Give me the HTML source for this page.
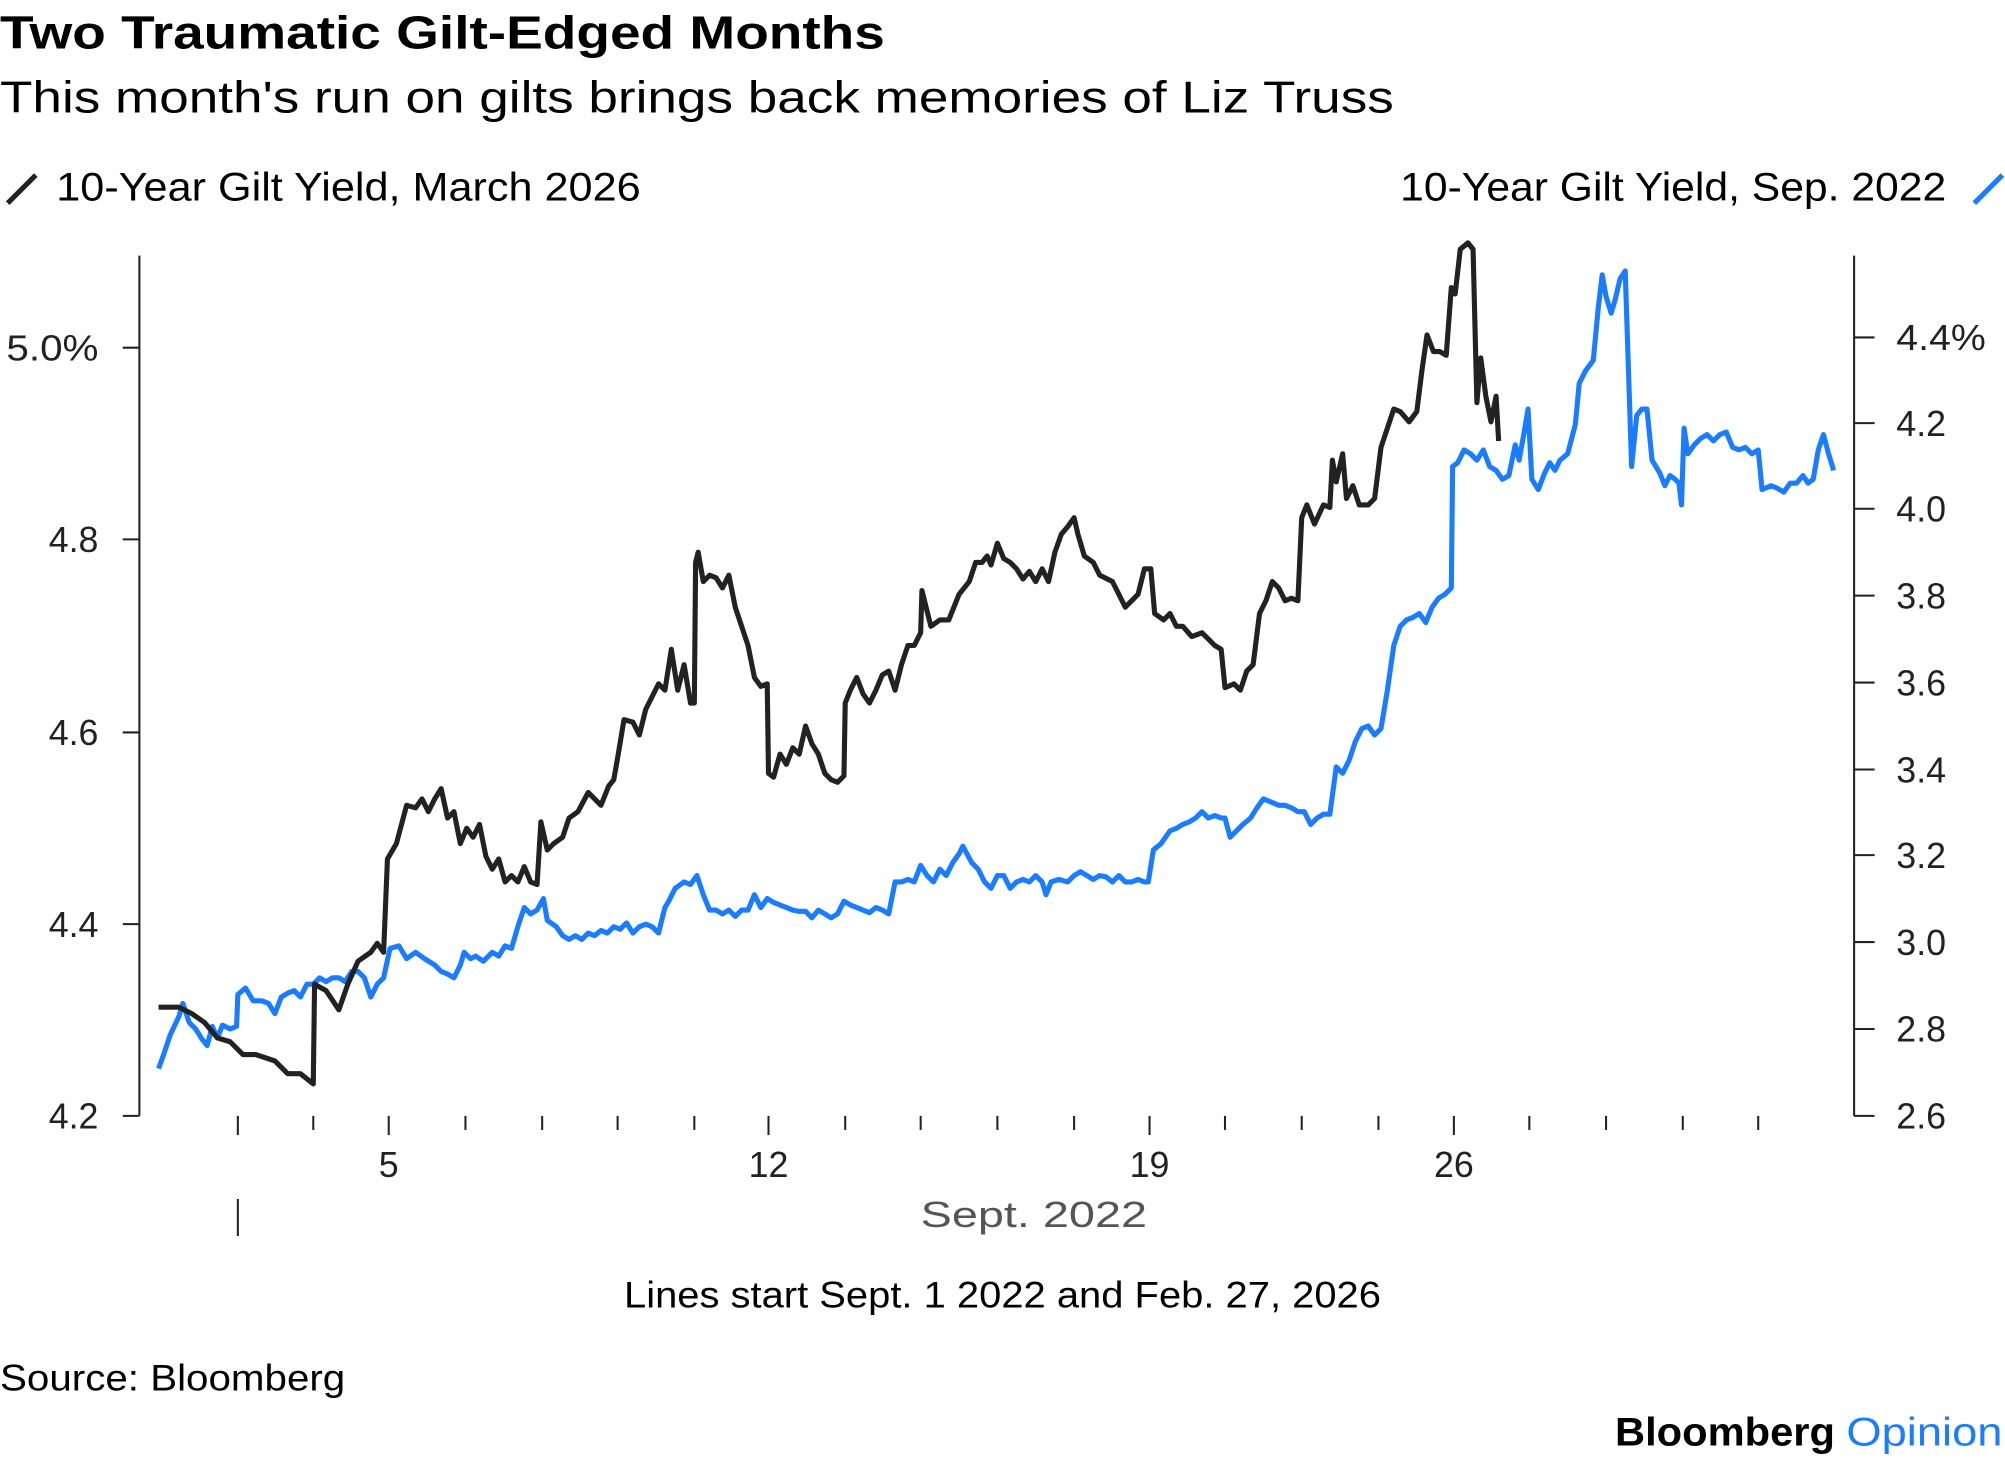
<!DOCTYPE html>
<html><head><meta charset="utf-8"><style>
html,body{margin:0;padding:0;background:#fff;}
svg{display:block;}
text{font-family:"Liberation Sans",sans-serif;}
</style></head><body>
<svg width="2005" height="1461" viewBox="0 0 1568 1143" preserveAspectRatio="none" xmlns="http://www.w3.org/2000/svg">
<rect width="1568" height="1143" fill="#fff"/>
<text x="0" y="38" font-size="36" font-weight="bold" fill="#000" textLength="692" lengthAdjust="spacingAndGlyphs">Two Traumatic Gilt-Edged Months</text>
<text x="0" y="88" font-size="35" fill="#000" textLength="1090" lengthAdjust="spacingAndGlyphs">This month's run on gilts brings back memories of Liz Truss</text>
<line x1="6" y1="159" x2="28" y2="137" stroke="#222" stroke-width="4"/>
<text x="44" y="157" font-size="31" fill="#000" textLength="457" lengthAdjust="spacingAndGlyphs">10-Year Gilt Yield, March 2026</text>
<text x="1095" y="157" font-size="31" fill="#000" textLength="427" lengthAdjust="spacingAndGlyphs">10-Year Gilt Yield, Sep. 2022</text>
<line x1="1544" y1="159" x2="1566" y2="137" stroke="#1a7cff" stroke-width="4"/>
<g stroke="#222" stroke-width="1.6">
<line x1="109" y1="200" x2="109" y2="873"/>
<line x1="1450" y1="200" x2="1450" y2="873"/>
<line x1="96" y1="873" x2="109" y2="873"/><line x1="96" y1="723" x2="109" y2="723"/><line x1="96" y1="573" x2="109" y2="573"/><line x1="96" y1="422" x2="109" y2="422"/><line x1="96" y1="272" x2="109" y2="272"/>
<line x1="1450" y1="873" x2="1466" y2="873"/><line x1="1450" y1="805" x2="1466" y2="805"/><line x1="1450" y1="737" x2="1466" y2="737"/><line x1="1450" y1="669" x2="1466" y2="669"/><line x1="1450" y1="602" x2="1466" y2="602"/><line x1="1450" y1="534" x2="1466" y2="534"/><line x1="1450" y1="466" x2="1466" y2="466"/><line x1="1450" y1="398" x2="1466" y2="398"/><line x1="1450" y1="331" x2="1466" y2="331"/><line x1="1450" y1="264" x2="1466" y2="264"/>
<line x1="186" y1="873" x2="186" y2="888"/><line x1="186" y1="938" x2="186" y2="967"/>
<line x1="245" y1="873" x2="245" y2="884"/><line x1="304" y1="873" x2="304" y2="888"/><line x1="364" y1="873" x2="364" y2="884"/><line x1="424" y1="873" x2="424" y2="884"/><line x1="483" y1="873" x2="483" y2="884"/><line x1="543" y1="873" x2="543" y2="884"/><line x1="601" y1="873" x2="601" y2="888"/><line x1="661" y1="873" x2="661" y2="884"/><line x1="720" y1="873" x2="720" y2="884"/><line x1="780" y1="873" x2="780" y2="884"/><line x1="840" y1="873" x2="840" y2="884"/><line x1="899" y1="873" x2="899" y2="888"/><line x1="958" y1="873" x2="958" y2="884"/><line x1="1018" y1="873" x2="1018" y2="884"/><line x1="1078" y1="873" x2="1078" y2="884"/><line x1="1137" y1="873" x2="1137" y2="888"/><line x1="1196" y1="873" x2="1196" y2="884"/><line x1="1256" y1="873" x2="1256" y2="884"/><line x1="1316" y1="873" x2="1316" y2="884"/><line x1="1375" y1="873" x2="1375" y2="884"/>
</g>
<g font-size="28" fill="#222">
<text x="77" y="883" text-anchor="end">4.2</text><text x="77" y="733" text-anchor="end">4.4</text><text x="77" y="583" text-anchor="end">4.6</text><text x="77" y="432" text-anchor="end">4.8</text><text x="5" y="282" textLength="72" lengthAdjust="spacingAndGlyphs">5.0%</text>
<text x="1483" y="883">2.6</text><text x="1483" y="815">2.8</text><text x="1483" y="747">3.0</text><text x="1483" y="679">3.2</text><text x="1483" y="612">3.4</text><text x="1483" y="544">3.6</text><text x="1483" y="476">3.8</text><text x="1483" y="408">4.0</text><text x="1483" y="341">4.2</text><text x="1483" y="274" textLength="70" lengthAdjust="spacingAndGlyphs">4.4%</text>
<text x="304" y="921" text-anchor="middle">5</text><text x="601" y="921" text-anchor="middle">12</text><text x="899" y="921" text-anchor="middle">19</text><text x="1137" y="921" text-anchor="middle">26</text>
</g>
<text x="720" y="960" font-size="28" fill="#555" textLength="177" lengthAdjust="spacingAndGlyphs">Sept. 2022</text>
<text x="488" y="1023" font-size="29" fill="#000" textLength="592" lengthAdjust="spacingAndGlyphs">Lines start Sept. 1 2022 and Feb. 27, 2026</text>
<text x="0" y="1088" font-size="29" fill="#000" textLength="270" lengthAdjust="spacingAndGlyphs">Source: Bloomberg</text>
<text x="1263" y="1131" font-size="31" font-weight="bold" fill="#000" textLength="172" lengthAdjust="spacingAndGlyphs">Bloomberg</text>
<text x="1444" y="1131" font-size="31" fill="#1a7cff" textLength="122" lengthAdjust="spacingAndGlyphs">Opinion</text>
<polyline fill="none" stroke="#1a7cff" stroke-width="4" stroke-linejoin="round" points="124,836 128,825 133,810 140,795 143,785 148,800 153,805 158,813 162,818 166,803 170,812 174,802 180,805 185,803 186,778 192,773 198,783 205,783 210,785 215,793 220,780 225,777 230,775 235,780 240,770 245,770 250,765 255,768 260,765 265,765 270,768 275,760 280,760 285,765 290,780 295,770 300,765 305,742 312,740 318,750 325,745 332,750 340,755 345,760 350,762 355,765 360,755 363,745 368,750 372,748 378,752 385,745 390,748 395,740 400,742 405,725 410,710 415,715 420,712 425,703 428,720 435,725 440,732 445,735 450,732 455,735 460,730 465,732 470,728 475,730 480,725 485,727 490,722 495,730 500,725 505,723 510,725 515,730 520,710 523,705 528,695 535,690 540,692 545,685 550,700 555,712 560,712 565,715 570,712 575,717 580,712 585,712 590,700 595,710 600,703 605,706 610,708 615,710 620,712 625,713 630,713 635,718 640,712 645,715 650,718 655,715 660,705 665,708 670,710 675,712 680,714 685,710 690,712 695,715 700,690 705,690 710,688 715,690 720,677 725,685 730,690 735,680 740,685 745,675 750,668 753,662 760,675 765,680 770,690 775,695 780,685 785,685 790,695 795,690 800,688 805,690 810,685 815,690 818,700 822,690 828,688 835,690 840,685 845,682 850,685 855,688 860,685 865,686 870,690 875,685 880,690 885,690 890,688 895,690 898,690 902,665 908,660 915,650 920,648 925,645 930,643 935,640 940,635 945,640 950,638 955,640 958,640 962,655 967,650 972,645 978,640 983,632 988,625 993,627 1000,630 1005,630 1010,632 1015,635 1020,635 1025,645 1030,640 1035,637 1040,637 1045,600 1050,605 1055,595 1060,580 1065,570 1070,568 1075,575 1080,570 1085,540 1090,505 1095,490 1100,485 1105,483 1110,480 1115,487 1120,475 1125,468 1130,465 1135,460 1136,365 1140,362 1145,352 1150,355 1155,360 1160,352 1165,365 1170,368 1175,375 1180,372 1185,348 1188,360 1192,338 1195,320 1198,375 1203,383 1208,370 1212,362 1216,368 1220,360 1226,355 1232,332 1235,300 1240,290 1246,282 1250,240 1253,215 1256,232 1260,245 1263,235 1267,218 1271,212 1276,365 1280,325 1284,320 1288,320 1292,360 1298,370 1302,380 1306,372 1310,375 1313,378 1315,395 1317,335 1320,355 1325,348 1330,343 1335,340 1340,345 1345,340 1350,338 1355,350 1360,352 1365,350 1370,355 1375,352 1378,383 1385,380 1390,382 1395,385 1400,378 1405,378 1410,372 1414,378 1418,375 1422,352 1426,340 1430,355 1434,368"/>
<polyline fill="none" stroke="#222" stroke-width="4" stroke-linejoin="round" points="124,788 140,788 150,793 160,800 170,812 180,815 190,825 200,825 215,830 225,840 235,840 245,848 246,770 255,775 265,790 272,770 280,752 290,745 295,738 300,745 303,672 310,660 318,630 325,632 330,625 335,635 340,625 345,617 350,640 355,635 360,660 365,648 370,655 375,645 380,670 385,680 390,672 395,690 400,685 405,690 410,678 415,690 420,692 423,643 428,665 433,660 440,655 445,640 452,635 460,620 470,630 476,615 480,610 483,593 488,563 495,565 500,575 505,555 510,545 515,535 520,540 525,508 530,540 535,520 540,550 543,550 544,440 546,432 550,455 555,450 560,452 565,460 570,450 575,475 585,505 590,530 595,537 600,535 601,605 605,608 610,590 615,598 620,585 625,590 630,568 635,582 640,590 645,605 650,610 655,612 660,607 661,550 665,540 670,530 675,543 680,550 685,540 690,528 695,525 700,540 705,520 710,505 715,505 720,495 721,462 728,490 735,485 742,485 750,465 758,455 763,440 768,440 772,435 775,442 780,425 785,437 790,440 795,445 800,453 805,447 810,455 815,445 820,455 825,432 830,418 835,412 840,405 843,418 848,435 855,440 860,450 870,455 875,465 880,475 890,465 895,445 900,445 903,480 910,485 915,480 920,490 925,490 932,498 940,495 945,500 950,505 955,508 958,538 965,535 970,540 975,525 980,520 985,480 990,470 995,455 1000,460 1005,470 1010,468 1015,470 1018,405 1022,395 1028,410 1035,395 1040,397 1042,360 1045,377 1050,355 1053,390 1058,380 1063,395 1070,395 1075,390 1080,350 1085,335 1090,320 1095,322 1102,330 1108,322 1112,290 1116,262 1121,275 1126,275 1131,278 1135,225 1138,230 1142,195 1148,190 1152,195 1155,315 1158,280 1162,310 1166,330 1170,310 1172,345"/>
</svg>
</body></html>
